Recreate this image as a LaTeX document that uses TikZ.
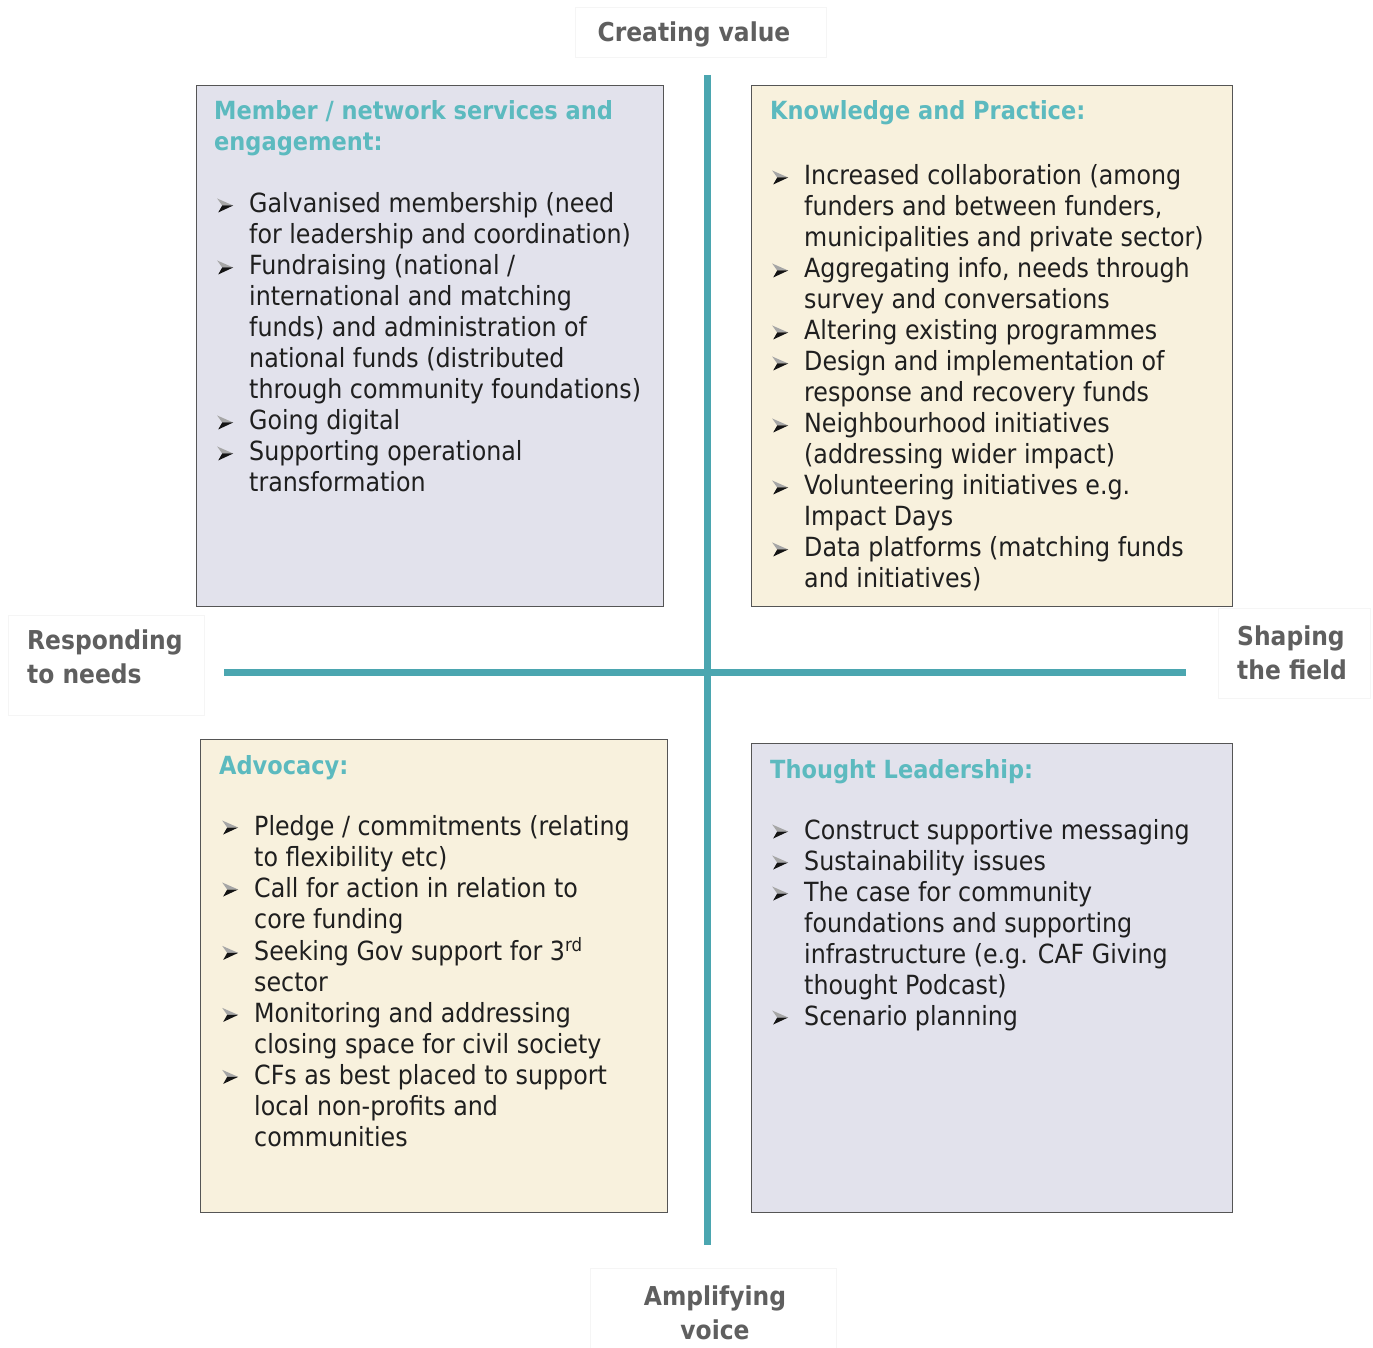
\documentclass[tikz,border=0pt]{standalone}
\usepackage{fontspec}
\setmainfont{DejaVu Sans Condensed}
\definecolor{lav}{RGB}{226,226,236}
\definecolor{cream}{RGB}{248,241,221}
\definecolor{axisc}{RGB}{75,166,176}
\definecolor{titlec}{RGB}{92,186,191}
\definecolor{labelc}{RGB}{95,95,95}
\definecolor{framec}{RGB}{85,85,85}
\newcommand\bulglyph{\tikz[baseline=0pt,x=1pt,y=1pt]{%
  \fill[black!35] (0,14.5) -- (16,7.5) -- (5,7.5) -- cycle;
  \fill[black!92] (5,7.5) -- (16,7.5) -- (1,0.5) -- cycle;}}
\newcommand\bl{\makebox[32pt][l]{\bulglyph}}
\newcommand\nb{\hspace*{32pt}}
\tikzset{
  qbox/.style={draw=framec, line width=1.3pt, inner sep=0pt, anchor=north west},
  qtitle/.style={anchor=base west, inner sep=0pt, text=titlec, font=\bfseries\fontsize{25}{31}\selectfont},
  qlist/.style={anchor=base west, inner sep=0pt, text=black!88, font=\fontsize{26.4}{31}\selectfont},
  axisline/.style={draw=axisc, line width=7pt},
  lblbox/.style={draw=black!4, line width=1pt, inner sep=0pt},
  lbltext/.style={inner sep=0pt, text=labelc, font=\bfseries\fontsize{26}{34}\selectfont},
}
\begin{document}
\begin{tikzpicture}[x=1pt,y=-1pt]
\useasboundingbox[fill=white] (0,0) rectangle (1373,1348);

% label boxes
\node[lblbox, minimum width=251, minimum height=50] (cvbox) at (700.5,33) {};
\node[lblbox, minimum width=196, minimum height=100] (rnbox) at (106,665) {};
\node[lblbox, minimum width=152, minimum height=90] (sfbox) at (1294,653) {};
\node[lblbox, minimum width=246, minimum height=84] (avbox) at (713,1310) {};

\node[lbltext, anchor=base] (cv) at (694,42) {Creating value};
\node[lbltext, anchor=base west] (rn) at (27,649) {\begin{tabular}[t]{@{}l@{}}Responding\\to needs\end{tabular}};
\node[lbltext, anchor=base west] (sf) at (1237,645) {\begin{tabular}[t]{@{}l@{}}Shaping\\the field\end{tabular}};
\node[lbltext, anchor=base] (av) at (715,1305) {\begin{tabular}[t]{@{}c@{}}Amplifying\\voice\end{tabular}};

% quadrant boxes
\node[qbox, fill=lav, minimum width=467, minimum height=521] (tl) at (196,85) {};
\node[qbox, fill=cream, minimum width=481, minimum height=521] (tr) at (751,85) {};
\node[qbox, fill=cream, minimum width=467, minimum height=473] (bl) at (200,739) {};
\node[qbox, fill=lav, minimum width=481, minimum height=469] (br) at (751,743) {};

% axes
\coordinate (vt) at (707,75);
\coordinate (vb) at (707,1245);
\coordinate (hl) at (224,672);
\coordinate (hr) at (1186,672);
\draw[axisline] (vt) -- (vb);
\draw[axisline] (hl) -- (hr);

% top left
\node[qtitle] (tlt) at (214,120) {\begin{tabular}[t]{@{}l@{}}Member / network services and\\engagement:\end{tabular}};
\node[qlist] (tll) at (217,213) {\begin{tabular}[t]{@{}l@{}}
\bl Galvanised membership (need\\
\nb for leadership and coordination)\\
\bl Fundraising (national /\\
\nb international and matching\\
\nb funds) and administration of\\
\nb national funds (distributed\\
\nb through community foundations)\\
\bl Going digital\\
\bl Supporting operational\\
\nb transformation
\end{tabular}};

% top right
\node[qtitle] (trt) at (770,120) {Knowledge and Practice:};
\node[qlist] (trl) at (772,185) {\begin{tabular}[t]{@{}l@{}}
\bl Increased collaboration (among\\
\nb funders and between funders,\\
\nb municipalities and private sector)\\
\bl Aggregating info, needs through\\
\nb survey and conversations\\
\bl Altering existing programmes\\
\bl Design and implementation of\\
\nb response and recovery funds\\
\bl Neighbourhood initiatives\\
\nb (addressing wider impact)\\
\bl Volunteering initiatives e.g.\\
\nb Impact Days\\
\bl Data platforms (matching funds\\
\nb and initiatives)
\end{tabular}};

% bottom left
\node[qtitle] (blt) at (219,774) {Advocacy:};
\node[qlist] (bll) at (222,835) {\begin{tabular}[t]{@{}l@{}}
\bl Pledge / commitments (relating\\
\nb to flexibility etc)\\
\bl Call for action in relation to\\
\nb core funding\\
\bl Seeking Gov support for 3\textsuperscript{rd}\\
\nb sector\\
\bl Monitoring and addressing\\
\nb closing space for civil society\\
\bl CFs as best placed to support\\
\nb local non-profits and\\
\nb communities
\end{tabular}};

% bottom right
\node[qtitle] (brt) at (770,778) {Thought Leadership:};
\node[qlist] (brl) at (772,839) {\begin{tabular}[t]{@{}l@{}}
\bl Construct supportive messaging\\
\bl Sustainability issues\\
\bl The case for community\\
\nb foundations and supporting\\
\nb infrastructure (e.g. CAF Giving\\
\nb thought Podcast)\\
\bl Scenario planning
\end{tabular}};
\end{tikzpicture}
\end{document}
